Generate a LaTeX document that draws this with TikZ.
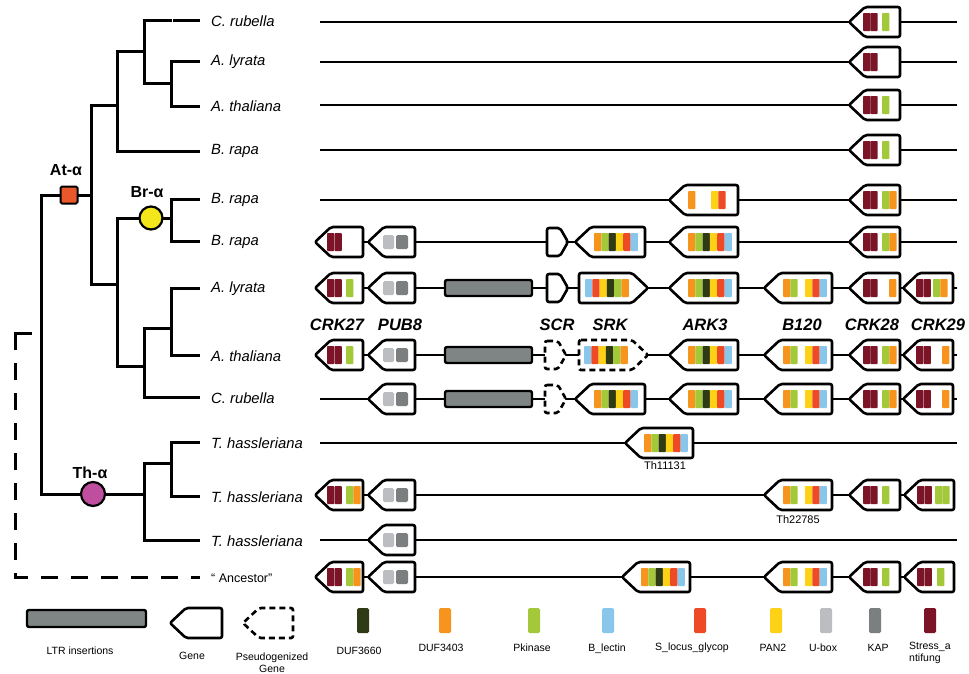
\documentclass[tikz,border=0pt]{standalone}
\usepackage{fontspec}
\setmainfont{Liberation Sans}
\definecolor{stress}{HTML}{7A1426}
\definecolor{pkin}{HTML}{A3C83A}
\definecolor{dufo}{HTML}{F7941E}
\definecolor{duf60}{HTML}{2E3B14}
\definecolor{pan}{HTML}{FDD116}
\definecolor{slocus}{HTML}{EE4A26}
\definecolor{blec}{HTML}{89C6EC}
\definecolor{ubox}{HTML}{BCBDC0}
\definecolor{kap}{HTML}{7C7F80}
\definecolor{ltrgray}{HTML}{7F8585}
\definecolor{atorange}{HTML}{E8582A}
\definecolor{bryellow}{HTML}{F3E61A}
\definecolor{thmag}{HTML}{C04E9E}
\tikzset{
  branch/.style={line width=3pt},
  backbone/.style={line width=1.4pt},
  genebox/.style={draw=black, line width=2.6pt, fill=white, rounded corners=2pt, line join=round},
  pseudobox/.style={genebox, dash pattern=on 6pt off 4pt},
  ltr/.style={draw=black, line width=2.4pt, fill=ltrgray, rounded corners=2pt},
  leaf/.style={anchor=west, inner sep=0pt, font=\fontsize{14.8}{17}\selectfont\itshape},
  genelabel/.style={inner sep=0pt, font=\fontsize{16.5}{19}\selectfont\bfseries\itshape},
  cladelabel/.style={inner sep=0pt, font=\fontsize{16}{19}\selectfont\bfseries},
  small/.style={inner sep=0pt, font=\fontsize{11}{13}\selectfont},
  legendlabel/.style={inner sep=0pt, font=\fontsize{10.5}{12}\selectfont},
}
% left-pointing gene: name, x-left, x-right, y, bars (offset/colour)
\newcommand{\gL}[5]{%
  \draw[genebox] (#2,#4) -- (#2+16,#4-15) -- (#3,#4-15) -- (#3,#4+15) -- (#2+16,#4+15) -- cycle;
  \coordinate (#1) at ({(#2+#3)/2},#4);
  \foreach \o/\c in {#5} {\fill[fill=\c, rounded corners=0.8pt] (#2+\o,#4-9) rectangle ++(7.3,18);}
}
% right-pointing gene
\newcommand{\gR}[5]{%
  \draw[genebox] (#2,#4-15) -- (#3-16,#4-15) -- (#3,#4) -- (#3-16,#4+15) -- (#2,#4+15) -- cycle;
  \coordinate (#1) at ({(#2+#3)/2},#4);
  \foreach \o/\c in {#5} {\fill[fill=\c, rounded corners=0.8pt] (#2+\o,#4-9) rectangle ++(7.3,18);}
}
% right-pointing pseudogene
\newcommand{\pR}[5]{%
  \draw[pseudobox] (#2,#4-15) -- (#3-16,#4-15) -- (#3,#4) -- (#3-16,#4+15) -- (#2,#4+15) -- cycle;
  \coordinate (#1) at ({(#2+#3)/2},#4);
  \foreach \o/\c in {#5} {\fill[fill=\c, rounded corners=0.8pt] (#2+\o,#4-9) rectangle ++(7.3,18);}
}
% PUB8: name, x-left, y
\newcommand{\pubg}[3]{%
  \draw[genebox] (#2,#3) -- (#2+16,#3-15) -- (#2+47,#3-15) -- (#2+47,#3+15) -- (#2+16,#3+15) -- cycle;
  \coordinate (#1) at (#2+24,#3);
  \fill[fill=ubox, rounded corners=1.5pt] (#2+15,#3-7) rectangle ++(11,14);
  \fill[fill=kap, rounded corners=1.5pt] (#2+28,#3-7) rectangle ++(12,14);
}
% SCR small gene (right-pointing): name, x-left, y
\newcommand{\scrg}[3]{%
  \draw[genebox] (#2,#3-14) -- (#2+13,#3-14) -- (#2+21,#3) -- (#2+13,#3+14) -- (#2,#3+14) -- cycle;
  \coordinate (#1) at (#2+10,#3);
}
\newcommand{\pscrg}[3]{%
  \draw[pseudobox] (#2,#3-14) -- (#2+13,#3-14) -- (#2+21,#3) -- (#2+13,#3+14) -- (#2,#3+14) -- cycle;
  \coordinate (#1) at (#2+10,#3);
}
\newcommand{\ltrg}[3]{%
  \draw[ltr] (#2,#3-8) rectangle (#2+87,#3+8);
  \coordinate (#1) at (#2+43,#3);
}
\begin{document}
\begin{tikzpicture}[x=1pt,y=-1pt]
\useasboundingbox[fill=white] (0,0) rectangle (969,673);

% ---------------- tree ----------------
\coordinate (L1) at (200,20);
\coordinate (L2) at (200,61);
\coordinate (L3) at (200,106);
\coordinate (L4) at (200,151);
\coordinate (L5) at (200,199);
\coordinate (L6) at (200,241);
\coordinate (L7) at (200,288);
\coordinate (L8) at (200,355);
\coordinate (L9) at (200,397);
\coordinate (L10) at (200,442);
\coordinate (L11) at (200,496);
\coordinate (L12) at (200,540);
\coordinate (L13) at (200,577);
\coordinate (nAlAt) at (171,83);
\coordinate (nCr) at (144,51);
\coordinate (nUp) at (117,105);
\coordinate (nBr) at (171,218);
\coordinate (nAlAt2) at (171,328);
\coordinate (nLow3) at (144,366);
\coordinate (nLow) at (117,284);
\coordinate (nAt) at (91,195);
\coordinate (nTh2) at (171,463);
\coordinate (nTh) at (144,494);
\coordinate (root) at (41,345);

\draw[branch] (nAlAt) |- (L2) (nAlAt) |- (L3);
\draw[branch] (nCr) |- (L1) (nCr) |- (nAlAt);
\draw[branch] (nUp) |- (nCr) (nUp) |- (L4);
\draw[branch] (nBr) |- (L5) (nBr) |- (L6);
\draw[branch] (nAlAt2) |- (L7) (nAlAt2) |- (L8);
\draw[branch] (nLow3) |- (nAlAt2) (nLow3) |- (L9);
\draw[branch] (nLow) |- (nBr) (nLow) |- (nLow3);
\draw[branch] (nAt) |- (nUp) (nAt) |- (nLow);
\draw[branch] (nTh2) |- (L10) (nTh2) |- (L11);
\draw[branch] (nTh) |- (nTh2) (nTh) |- (L12);
\draw[branch] (root) |- (nAt) (root) |- (nTh);
\draw[white, line width=0.9pt] (172,17) -- (172,23);

\coordinate (dtop) at (32,333);
\coordinate (dcorner) at (15,350);
\coordinate (dstart) at (15,363);
\draw[branch] (dtop) -| (dcorner);
\draw[branch, dash pattern=on 17pt off 13pt] (dstart) |- (L13);

\node[draw=black, line width=2pt, fill=atorange, minimum size=17pt, rounded corners=1.5pt, inner sep=0pt] (atm) at (69,195) {};
\node[circle, draw=black, line width=2.2pt, fill=bryellow, minimum size=23pt, inner sep=0pt] (brm) at (151,218) {};
\node[circle, draw=black, line width=2.2pt, fill=thmag, minimum size=24pt, inner sep=0pt] (thm) at (93,494) {};
\node[cladelabel] (atl) at (66,170) {At-α};
\node[cladelabel] (brl) at (147,192) {Br-α};
\node[cladelabel] (thl) at (90,473) {Th-α};

\node[leaf] (t1) at (211,21) {C. rubella};
\node[leaf] (t2) at (211,62) {A. lyrata};
\node[leaf] (t3) at (211,106) {A. thaliana};
\node[leaf] (t4) at (211,151) {B. rapa};
\node[leaf] (t5) at (211,200) {B. rapa};
\node[leaf] (t6) at (211,242) {B. rapa};
\node[leaf] (t7) at (211,289) {A. lyrata};
\node[leaf] (t8) at (211,356) {A. thaliana};
\node[leaf] (t9) at (211,398) {C. rubella};
\node[leaf] (t10) at (211,443) {T. hassleriana};
\node[leaf] (t11) at (211,497) {T. hassleriana};
\node[leaf] (t12) at (211,541) {T. hassleriana};
\node[anchor=west, inner sep=0pt, font=\fontsize{12.5}{15}\selectfont] (t13) at (211,578) {“ Ancestor”};

% ---------------- backbones ----------------
\foreach \n/\xs/\xe/\y in {1/320/957/22, 2/320/957/62, 3/320/957/105, 4/320/957/150, 5/320/957/200,
   6/363/957/242, 7/363/957/288, 8/363/957/355, 9/320/957/399, 10/320/957/443,
   11/363/953/495, 12/320/957/540, 13/363/953/577} {
  \coordinate (s\n) at (\xs,\y);
  \coordinate (e\n) at (\xe,\y);
  \draw[backbone] (s\n) -- (e\n);
}

% row 1-4
\gL{r1crk28}{849}{900}{22}{14/stress,21.3/stress,33/pkin}
\gL{r2crk28}{849}{900}{62}{14/stress,21.3/stress}
\gL{r3crk28}{849}{900}{105}{14/stress,21.3/stress,33/pkin}
\gL{r4crk28}{849}{900}{150}{14/stress,21.3/stress,33/pkin}
% row 5
\gL{r5ark}{669}{738}{200}{19/dufo,42/pan,49.3/slocus}
\gL{r5crk28}{849}{900}{200}{14/stress,21.3/stress,33/pkin,40.3/dufo}
% row 6
\gL{r6crk27}{315}{363}{242}{12/stress,19.5/stress}
\pubg{r6pub}{368}{242}
\scrg{r6scr}{547}{242}
\gL{r6srk}{575}{645}{242}{19/dufo,26.3/pkin,33.6/duf60,40.9/pan,48.2/slocus,55.5/blec}
\gL{r6ark}{669}{738}{242}{19/dufo,26.3/pkin,33.6/duf60,40.9/pan,48.2/slocus,55.5/blec}
\gL{r6crk28}{849}{900}{242}{14/stress,21.3/stress,33/pkin,40.3/dufo}
% row 7
\gL{r7crk27}{315}{363}{288}{12/stress,19.5/stress,31/pkin}
\pubg{r7pub}{368}{288}
\ltrg{r7ltr}{445}{288}
\scrg{r7scr}{547}{288}
\gR{r7srk}{579}{648}{288}{6/blec,13.3/slocus,20.6/pan,27.9/duf60,35.2/pkin,42.5/dufo}
\gL{r7ark}{669}{738}{288}{19/dufo,26.3/pkin,33.6/duf60,40.9/pan,48.2/slocus,55.5/blec}
\gL{r7b120}{764}{832}{288}{19/dufo,26.3/pkin,41/pan,48.3/slocus,55.6/blec}
\gL{r7crk28}{849}{900}{288}{14/stress,21.3/stress,40/dufo}
\gL{r7crk29}{903}{953}{288}{13/stress,20.5/stress,30/pkin,37.3/dufo}
% labels
\node[genelabel] (lcrk27) at (337,325) {CRK27};
\node[genelabel] (lpub8) at (400,325) {PUB8};
\node[genelabel] (lscr) at (557,325) {SCR};
\node[genelabel] (lsrk) at (610,325) {SRK};
\node[genelabel] (lark3) at (705,325) {ARK3};
\node[genelabel] (lb120) at (802,325) {B120};
\node[genelabel] (lcrk28) at (872,325) {CRK28};
\node[genelabel] (lcrk29) at (938,325) {CRK29};
% row 8
\gL{r8crk27}{315}{363}{355}{12/stress,19.5/stress,31/pkin}
\pubg{r8pub}{368}{355}
\ltrg{r8ltr}{445}{355}
\pscrg{r8scr}{545}{355}
\pR{r8srk}{579}{648}{355}{5/blec,12.3/slocus,19.6/pan,26.9/duf60,34.2/pkin,41.5/dufo}
\gL{r8ark}{669}{738}{355}{19/dufo,26.3/pkin,33.6/duf60,40.9/pan,48.2/slocus,55.5/blec}
\gL{r8b120}{764}{832}{355}{19/dufo,26.3/pkin,41/pan,48.3/slocus,55.6/blec}
\gL{r8crk28}{849}{900}{355}{14/stress,21.3/stress,33/pkin,40.3/dufo}
\gL{r8crk29}{903}{953}{355}{13/stress,20.5/stress,39/dufo}
% row 9
\pubg{r9pub}{368}{399}
\ltrg{r9ltr}{445}{399}
\pscrg{r9scr}{545}{399}
\gL{r9srk}{575}{645}{399}{19/dufo,26.3/pkin,33.6/duf60,40.9/pan,48.2/slocus,55.5/blec}
\gL{r9ark}{669}{738}{399}{19/dufo,26.3/pkin,33.6/duf60,40.9/pan,48.2/slocus,55.5/blec}
\gL{r9b120}{764}{832}{399}{19/dufo,26.3/pkin,41/pan,48.3/slocus,55.6/blec}
\gL{r9crk28}{849}{900}{399}{14/stress,21.3/stress,33/pkin,40.3/dufo}
\gL{r9crk29}{903}{953}{399}{13/stress,20.5/stress,39/dufo}
% row 10
\gL{r10th}{625}{693}{443}{19/dufo,26.3/pkin,33.6/duf60,40.9/pan,48.2/slocus,55.5/blec}
\node[small] (lth11131) at (665,466) {Th11131};
% row 11
\gL{r11crk27}{315}{363}{495}{12/stress,19.5/stress,31/pkin,38.3/dufo}
\pubg{r11pub}{368}{495}
\gL{r11th}{764}{832}{495}{19/dufo,26.3/pkin,41/pan,48.3/slocus,55.6/blec}
\node[small] (lth22785) at (798,520) {Th22785};
\gL{r11crk28}{849}{900}{495}{14/stress,21.3/stress,33/pkin}
\gL{r11crk29}{904}{954}{495}{13/stress,20.5/stress,31/pkin,38.3/pkin}
% row 12
\pubg{r12pub}{368}{540}
% row 13
\gL{r13crk27}{315}{363}{577}{12/stress,19.5/stress,31/pkin,38.3/dufo}
\pubg{r13pub}{368}{577}
\gL{r13srk}{622}{690}{577}{19/dufo,26.3/pkin,33.6/duf60,40.9/pan,48.2/slocus,55.5/blec}
\gL{r13b120}{764}{832}{577}{19/dufo,26.3/pkin,41/pan,48.3/slocus,55.6/blec}
\gL{r13crk28}{849}{900}{577}{14/stress,21.3/stress,33/pkin}
\gL{r13crk29}{904}{954}{577}{13/stress,20.5/stress,33/pkin}

% ---------------- legend ----------------
\draw[ltr] (27,610) rectangle (146,627);
\node[legendlabel] (lgltr) at (80,651) {LTR insertions};
\draw[genebox] (170,623) -- (186,608) -- (222,608) -- (222,638) -- (186,638) -- cycle;
\node[legendlabel] (lggene) at (192,656) {Gene};
\draw[pseudobox] (243,623) -- (259,608) -- (293,608) -- (293,638) -- (259,638) -- cycle;
\node[legendlabel, align=center] (lgpseudo) at (272,663) {Pseudogenized\\Gene};
\foreach \x/\c in {363/duf60, 445/dufo, 534/pkin, 608/blec, 700/slocus, 776/pan, 826/ubox, 875/kap, 930/stress}
  \fill[fill=\c, rounded corners=1.5pt] (\x-6,608) rectangle (\x+6,633);
\node[legendlabel] (lg1) at (359,651) {DUF3660};
\node[legendlabel] (lg2) at (441,648) {DUF3403};
\node[legendlabel] (lg3) at (532,648) {Pkinase};
\node[legendlabel] (lg4) at (607,649) {B\_lectin};
\node[legendlabel] (lg5) at (692,648) {S\_locus\_glycop};
\node[legendlabel] (lg6) at (773,648) {PAN2};
\node[legendlabel] (lg7) at (823,648) {U-box};
\node[legendlabel] (lg8) at (878,648) {KAP};
\node[legendlabel, anchor=north west, align=left] (lg9) at (909,642) {Stress\_a\\ntifung};
\end{tikzpicture}
\end{document}
